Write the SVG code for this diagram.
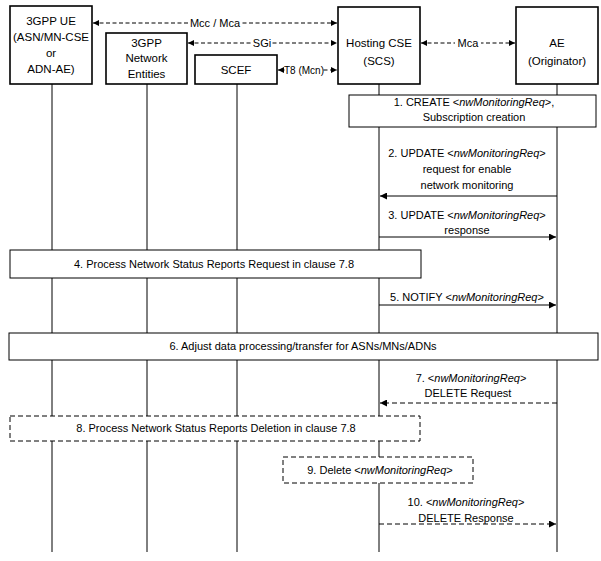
<svg xmlns="http://www.w3.org/2000/svg" width="601" height="561" viewBox="0 0 601 561">
<style>
text{font-family:"Liberation Sans",Arial,sans-serif;font-size:11px;fill:#000;text-anchor:middle}
.nt{font-size:11.5px}
.sm{font-size:10px}
.it{font-style:italic}
.node{fill:#fff;stroke:#000;stroke-width:1.6}
.box{fill:#fff;stroke:#000;stroke-width:1}
.dbox{fill:#fff;stroke:#000;stroke-width:1;stroke-dasharray:5 3}
.life{stroke:#000;stroke-width:1;fill:none}
.msg{stroke:#000;stroke-width:1;fill:none;marker-end:url(#ah)}
.dash{stroke-dasharray:5 3}
.bi{stroke:#000;stroke-width:1;fill:none;stroke-dasharray:4 2.5;marker-start:url(#ah2);marker-end:url(#ah2)}
.lbg{fill:#fff}
</style>
<defs>
<marker id="ah" viewBox="0 0 10 10" refX="10" refY="5" markerWidth="9" markerHeight="7" markerUnits="userSpaceOnUse" orient="auto-start-reverse">
<path d="M0,0 L10,5 L0,10 z" fill="#000"/>
</marker>
<marker id="ah2" viewBox="0 0 10 10" refX="10" refY="5" markerWidth="8" markerHeight="6" markerUnits="userSpaceOnUse" orient="auto-start-reverse">
<path d="M0,0 L10,5 L0,10 z" fill="#000"/>
</marker>
</defs>
<rect width="601" height="561" fill="#fff"/>

<g id="lifelines">
<line class="life" x1="52" y1="84" x2="52" y2="552"/>
<line class="life" x1="147" y1="84" x2="147" y2="552"/>
<line class="life" x1="237" y1="84" x2="237" y2="552"/>
<line class="life" x1="379" y1="84" x2="379" y2="552"/>
<line class="life" x1="557" y1="84" x2="557" y2="552"/>
</g>

<g id="ue">
<rect class="node" x="10" y="6" width="82" height="78"/>
<text class="nt" x="51" y="25">3GPP UE</text>
<text class="nt" x="51" y="41">(ASN/MN-CSE</text>
<text class="nt" x="51" y="57">or</text>
<text class="nt" x="51" y="73">ADN-AE)</text>
</g>
<g id="nwent">
<rect class="node" x="106" y="33" width="81" height="51"/>
<text class="nt" x="146.5" y="47">3GPP</text>
<text class="nt" x="146.5" y="62">Network</text>
<text class="nt" x="146.5" y="78">Entities</text>
</g>
<g id="scef">
<rect class="node" x="195" y="55" width="82" height="29"/>
<text class="nt" x="236" y="74">SCEF</text>
</g>
<g id="cse">
<rect class="node" x="338" y="7" width="82" height="77"/>
<text class="nt" x="379" y="47">Hosting CSE</text>
<text class="nt" x="379" y="65">(SCS)</text>
</g>
<g id="ae">
<rect class="node" x="516" y="7" width="82" height="77"/>
<text class="nt" x="557" y="47">AE</text>
<text class="nt" x="557" y="65">(Originator)</text>
</g>

<g id="connectors">
<line class="bi" x1="93" y1="23" x2="337" y2="23"/>
<rect class="lbg" x="189" y="16" width="52" height="14"/>
<text x="215" y="27">Mcc / Mca</text>
<line class="bi" x1="188" y1="43" x2="337" y2="43"/>
<rect class="lbg" x="252" y="36" width="20" height="14"/>
<text x="262" y="47">SGi</text>
<line class="bi" x1="278" y1="70" x2="337" y2="70"/>
<rect class="lbg" x="285" y="63" width="38" height="14"/>
<text class="sm" x="304" y="74">T8 (Mcn)</text>
<line class="bi" x1="421" y1="43" x2="515" y2="43"/>
<rect class="lbg" x="455" y="36" width="26" height="14"/>
<text x="468" y="47">Mca</text>

<line class="msg" x1="557" y1="196" x2="380" y2="196"/>
<text x="467" y="157">2. UPDATE &lt;<tspan class="it">nwMonitoringReq</tspan>&gt;</text>
<text x="467" y="173">request for enable</text>
<text x="467" y="189">network monitoring</text>

<line class="msg" x1="379" y1="237" x2="556" y2="237"/>
<text x="467" y="219">3. UPDATE &lt;<tspan class="it">nwMonitoringReq</tspan>&gt;</text>
<text x="467" y="234">response</text>

<line class="msg" x1="379" y1="305" x2="556" y2="305"/>
<text x="467" y="301">5. NOTIFY &lt;<tspan class="it">nwMonitoringReq</tspan>&gt;</text>

<line class="msg dash" x1="557" y1="403" x2="380" y2="403"/>
<text x="471" y="382">7. &lt;<tspan class="it">nwMonitoringReq</tspan>&gt;</text>
<text x="468" y="397">DELETE Request</text>

<line class="msg dash" x1="379" y1="524" x2="556" y2="524"/>
<text x="466" y="506">10. &lt;<tspan class="it">nwMonitoringReq</tspan>&gt;</text>
<text x="466" y="522">DELETE Response</text>
</g>

<g id="step1">
<rect class="box" x="349" y="95" width="247" height="32"/>
<text x="474" y="106">1. CREATE &lt;<tspan class="it">nwMonitoringReq</tspan>&gt;,</text>
<text x="474" y="121">Subscription creation</text>
</g>
<g id="step4">
<rect class="box" x="10" y="250" width="411" height="28"/>
<text x="214" y="268">4. Process Network Status Reports Request in clause 7.8</text>
</g>
<g id="step6">
<rect class="box" x="9" y="333" width="589" height="27"/>
<text x="303" y="350">6. Adjust data processing/transfer for ASNs/MNs/ADNs</text>
</g>
<g id="step8">
<rect class="dbox" x="10" y="416" width="410" height="25"/>
<text x="216" y="432">8. Process Network Status Reports Deletion in clause 7.8</text>
</g>
<g id="step9">
<rect class="dbox" x="283" y="457" width="190" height="26"/>
<text x="380" y="474">9. Delete &lt;<tspan class="it">nwMonitoringReq</tspan>&gt;</text>
</g>
</svg>
